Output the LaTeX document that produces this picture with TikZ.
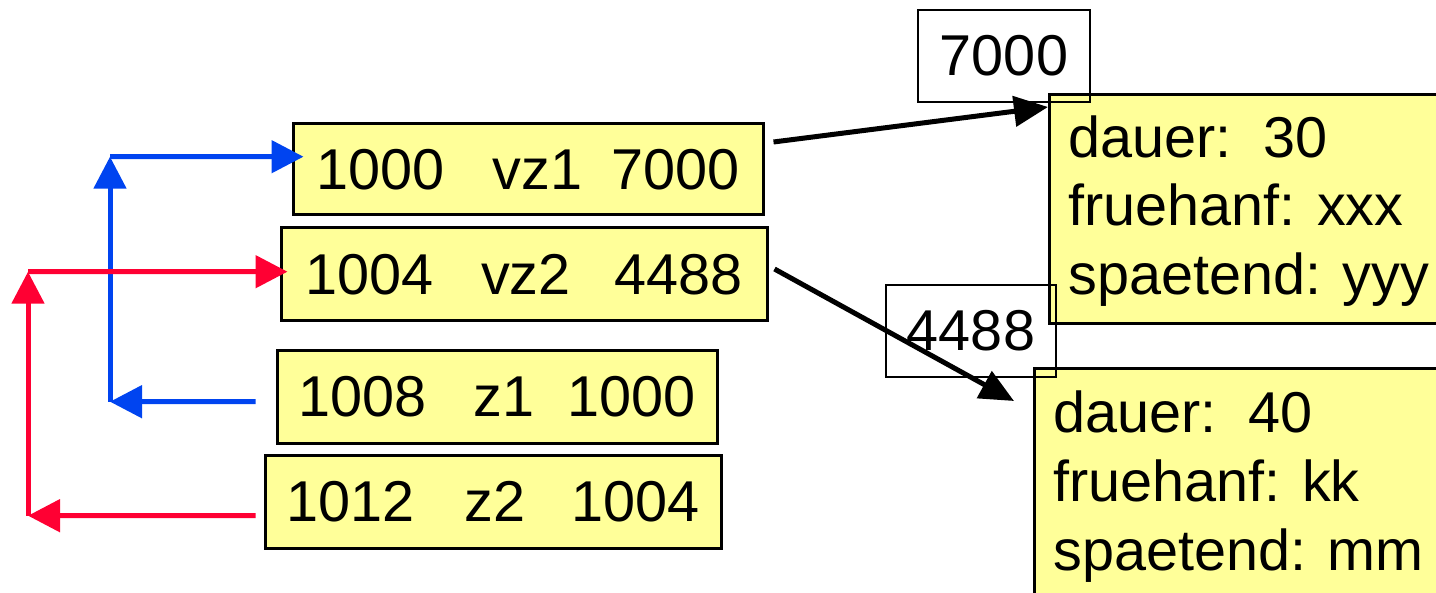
\documentclass[tikz,border=0pt]{standalone}
\usepackage{fontspec}
\setmainfont{Liberation Sans}
\usetikzlibrary{arrows.meta}
\definecolor{cblue}{RGB}{0,68,240}
\definecolor{cred}{RGB}{255,0,51}
\definecolor{cyel}{RGB}{255,255,153}
\begin{document}
\begin{tikzpicture}[x=0.5pt,y=-0.5pt,
  txt/.style={font=\fontsize{28.8}{34.5}\selectfont},
  lbox/.style={draw=black, line width=1.5pt, fill=cyel, inner sep=0pt, txt},
  ybox/.style={draw=black, line width=1.5pt, fill=cyel, anchor=north west, inner sep=0pt},
  obox/.style={draw=black, line width=1.2pt, inner sep=0pt, txt},
  barr/.style={line width=2.5pt, -{Triangle[length=17pt,width=15pt]}},
  carr/.style={line width=2.5pt, -{Triangle[length=16pt,width=16pt]}},
]
\clip (0,0) rectangle (1436,593);
% yellow record boxes
\node[ybox, minimum width=250pt, minimum height=114.5pt] (y1) at (1048,93) {};
\node[ybox, minimum width=250pt, minimum height=150pt] (y2) at (1033,367) {};
\node[txt, anchor=base west, align=left, inner sep=0pt] (t1) at (1068,295) {dauer:\ \ 30\\fruehanf: xxx\\spaetend: yyy};
\node[txt, anchor=base west, align=left, inner sep=0pt] (t2) at (1053,570) {dauer:\ \ 40\\fruehanf: kk\\spaetend: mm};
% address boxes
\node[obox, minimum width=86pt, minimum height=46pt] (k1) at (1004,56) {7000};
\node[obox, minimum width=85pt, minimum height=46pt] (k2) at (971,331) {4488};
% left boxes
\node[lbox, minimum width=235pt, minimum height=45.5pt] (b1) at (528,169.5) {1000\hspace{24pt}vz1\hspace{14.5pt}7000};
\node[lbox, minimum width=243pt, minimum height=46.5pt] (b2) at (524,274.5) {1004\hspace{24pt}vz2\hspace{22pt}4488};
\node[lbox, minimum width=220pt, minimum height=46pt] (b3) at (497,397) {1008\hspace{23.5pt}z1\hspace{16.5pt}1000};
\node[lbox, minimum width=228pt, minimum height=46.5pt] (b4) at (493,501.5) {1012\hspace{25pt}z2\hspace{23pt}1004};
% black pointers
\draw[barr] ([xshift=4.5pt,yshift=13.75pt]b1.east) -- ([yshift=-7pt]y1.north west);
\draw[barr] ([xshift=3pt,yshift=2.75pt]b2.east) -- ([xshift=-9.5pt,yshift=-17pt]y2.north west);
% corner coordinates
\coordinate (bc1) at (110,401.7);
\coordinate (bc2) at (110,156.7);
\coordinate (rc1) at (28,515.7);
\coordinate (rc2) at (28,271.7);
% blue path
\draw[carr, cblue] ([xshift=-10pt,yshift=-2.35pt]b3.west) -- (bc1);
\draw[carr, cblue] (bc1) -- (bc2);
\draw[carr, cblue] (bc2) -- ([xshift=6pt,yshift=6.4pt]b1.west);
% red path
\draw[carr, cred] ([xshift=-4pt,yshift=-7.1pt]b4.west) -- (rc1);
\draw[carr, cred] (rc1) -- (rc2);
\draw[carr, cred] (rc2) -- ([xshift=4pt,yshift=1.4pt]b2.west);
\end{tikzpicture}
\end{document}
